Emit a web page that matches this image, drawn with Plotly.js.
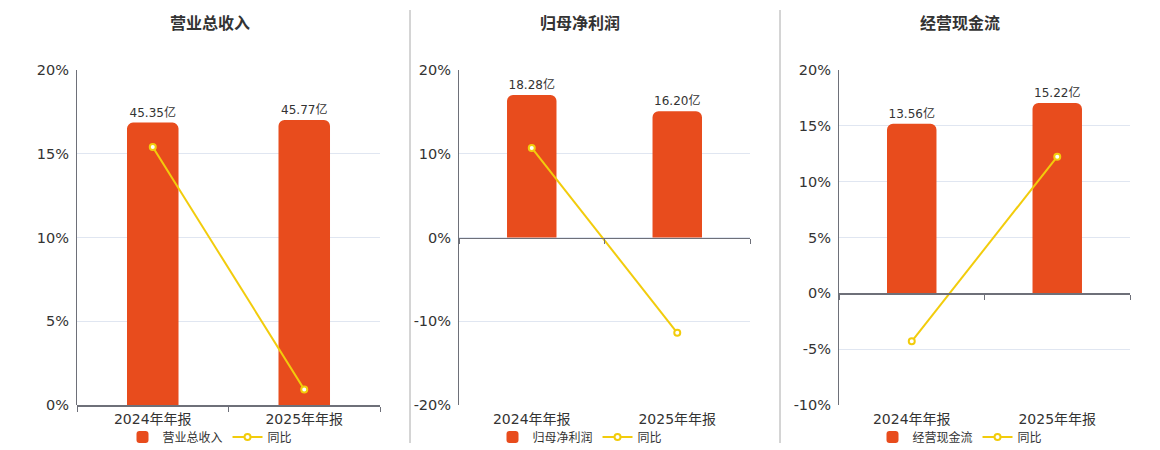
<!DOCTYPE html>
<html>
<head>
<meta charset="utf-8">
<script src="https://cdn.plot.ly/plotly-3.0.1.min.js"></script>
<style>
  html, body { margin: 0; padding: 0; background: #fff; }
  #chart { width: 1160px; height: 450px; }
</style>
</head>
<body>
<div id="chart"></div>
<script>
// data
var periods = ['2024年年报', '2025年年报'];

var titles = ['营业总收入', '归母净利润', '经营现金流'];

var revenue = [45.35, 45.77];
var netProfit = [18.28, 16.20];
var cashFlow = [13.56, 15.22];

var revenueYoy = [15.4, 0.93];
var netProfitYoy = [10.7, -11.38];
var cashFlowYoy = [-4.3, 12.24];

// percent axis ranges and bar axis ranges per panel
var pctRanges = [[0, 20], [-20, 20], [-10, 20]];
var pctTicks = [[0, 5, 10, 15, 20], [-20, -10, 0, 10, 20], [-10, -5, 0, 5, 10, 15, 20]];
var barRanges = [[0, 53.8], [-21.5, 21.5], [-8.93, 17.86]];

var barValues = [revenue, netProfit, cashFlow];
var yoyValues = [revenueYoy, netProfitYoy, cashFlowYoy];

var BAR_COLOR = '#e84c1d';
var LINE_COLOR = '#f2cc0c';
var TXT = '#333333';
var AXIS = '#6e7079';
var GRID = '#e0e6f1';
var FONT = '"DejaVu Sans", "Noto Sans CJK SC", sans-serif';
var CJK = '"Noto Sans CJK SC", sans-serif';

// pixel layout (margins are zero so paper == pixels)
var W = 1160, H = 450;
var xDomsPx = [[77, 380], [459, 750], [839, 1130]];
var headCentersPx = [210, 580, 960];
var yDom = [(H - 405) / H, (H - 70) / H];
var dividersPx = [410, 780];

var traces = [];
var layout = {
    width: W,
    height: H,
    margin: { l: 0, r: 0, t: 0, b: 0, autoexpand: false },
    paper_bgcolor: '#ffffff',
    plot_bgcolor: 'rgba(0,0,0,0)',
    font: { family: FONT, color: TXT },
    barcornerradius: 6,
    bargap: 0.66,
    annotations: [],
    shapes: []
};

for (var i = 0; i < 3; i++) {
    var n = i + 1;
    var xs = 'x' + n, ys = 'y' + n;          // category axis + hidden bar axis
    var yp = 'y' + (n + 3);                   // percent axis
    var xt = 'x' + (n + 3);                   // tick axis at zero
    var legendId = i === 0 ? 'legend' : 'legend' + n;
    var dom = [xDomsPx[i][0] / W, xDomsPx[i][1] / W];
    var head = headCentersPx[i] / W;

    traces.push({
        type: 'bar',
        x: periods,
        y: barValues[i],
        xaxis: xs,
        yaxis: ys,
        name: titles[i],
        legend: legendId,
        marker: { color: BAR_COLOR },
        text: barValues[i].map(function (v) { return v.toFixed(2) + '亿'; }),
        textposition: 'outside',
        cliponaxis: false,
        textfont: { size: 12, color: TXT, family: FONT },
        hoverinfo: 'skip'
    });

    traces.push({
        type: 'scatter',
        mode: 'lines+markers',
        x: periods,
        y: yoyValues[i],
        xaxis: xs,
        yaxis: yp,
        name: '同比',
        legend: legendId,
        line: { color: LINE_COLOR, width: 2 },
        marker: { color: '#ffffff', size: 6, line: { color: LINE_COLOR, width: 2 } },
        hoverinfo: 'skip'
    });

    // invisible trace so the zero tick axis gets drawn
    traces.push({
        type: 'scatter',
        mode: 'markers',
        x: [0],
        y: [0],
        xaxis: xt,
        yaxis: yp,
        marker: { opacity: 0 },
        showlegend: false,
        hoverinfo: 'skip'
    });

    var pr = pctRanges[i];
    var zeroPos = yDom[0] + (0 - pr[0]) / (pr[1] - pr[0]) * (yDom[1] - yDom[0]);

    layout['xaxis' + n] = {
        domain: dom,
        anchor: ys,
        type: 'category',
        showline: false,
        ticks: '',
        showgrid: false,
        zeroline: false,
        ticklabelstandoff: 4,
        tickfont: { size: 14, color: TXT, family: FONT },
        fixedrange: true
    };
    layout['yaxis' + n] = {
        domain: yDom,
        anchor: xs,
        range: barRanges[i],
        visible: false,
        showgrid: false,
        zeroline: false,
        fixedrange: true
    };
    layout['yaxis' + (n + 3)] = {
        domain: yDom,
        overlaying: ys,
        anchor: xs,
        side: 'left',
        range: pr,
        tickvals: pctTicks[i],
        ticktext: pctTicks[i].map(function (v) { return v + '%'; }),
        showline: true,
        linecolor: AXIS,
        linewidth: 1,
        showgrid: true,
        gridcolor: GRID,
        gridwidth: 1,
        zeroline: false,
        ticks: '',
        ticklabelstandoff: 4,
        tickfont: { size: 14.5, color: TXT, family: FONT },
        fixedrange: true
    };
    layout['xaxis' + (n + 3)] = {
        overlaying: xs,
        anchor: 'free',
        position: zeroPos,
        domain: dom,
        range: [-0.5, 1.5],
        tickvals: [-0.5, 0.5, 1.5],
        showticklabels: false,
        ticks: 'outside',
        ticklen: 5,
        tickcolor: AXIS,
        showline: true,
        linecolor: AXIS,
        linewidth: 1.5,
        showgrid: false,
        zeroline: false,
        fixedrange: true
    };

    layout[legendId] = {
        orientation: 'h',
        x: head,
        xanchor: 'center',
        y: (H - 437) / H,
        yanchor: 'middle',
        font: { size: 12, color: TXT, family: CJK },
        itemwidth: 30,
        tracegroupgap: 0,
        bgcolor: 'rgba(0,0,0,0)'
    };

    layout.annotations.push({
        text: '<b>' + titles[i] + '</b>',
        xref: 'paper',
        yref: 'paper',
        x: head,
        y: (H - 22) / H,
        xanchor: 'center',
        yanchor: 'middle',
        showarrow: false,
        font: { size: 16, color: TXT, family: CJK }
    });
}

dividersPx.forEach(function (px) {
    layout.shapes.push({
        type: 'line',
        xref: 'paper',
        yref: 'paper',
        x0: px / W,
        x1: px / W,
        y0: (H - 443) / H,
        y1: (H - 10) / H,
        line: { color: '#aaaaaa', width: 1 }
    });
});

Plotly.newPlot('chart', traces, layout, { displayModeBar: false, staticPlot: true });
</script>
</body>
</html>
